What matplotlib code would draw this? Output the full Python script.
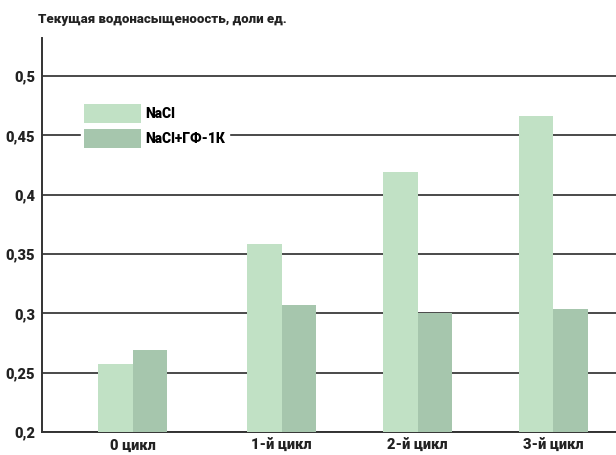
import numpy as np
import matplotlib
matplotlib.use("Agg")
import matplotlib.pyplot as plt
from matplotlib.ticker import FixedLocator, FuncFormatter

# water saturation by cycle for the two solutions
cycles = ["0 цикл", "1-й цикл", "2-й цикл", "3-й цикл"]
nacl = [0.257, 0.358, 0.419, 0.466]
nacl_gf = [0.269, 0.307, 0.300, 0.304]
series_names = ["NaCl", "NaCl+ГФ-1К"]
y_ticks = [0.2, 0.25, 0.3, 0.35, 0.4, 0.45, 0.5]

LIGHT = "#c1e1c5"
DARK = "#a6c6ad"
GRID = "#4a4a4a"
FAMILY = ["Roboto", "DejaVu Sans"]
WEIGHT = "black"

# group centres (slightly uneven spacing in the layout)
group_pos = np.array([0.0, 1.06, 2.03, 3.0])
bar_w = 0.246

fig = plt.figure(figsize=(6.16, 4.55), dpi=100)
ax = fig.add_axes([42 / 616, 23 / 455, 1 - 42 / 616, (432 - 38) / 455])

ax.bar(group_pos - bar_w / 2, nacl, bar_w, color=LIGHT, label=series_names[0],
       zorder=3)
ax.bar(group_pos + bar_w / 2, nacl_gf, bar_w, color=DARK, label=series_names[1],
       zorder=3)

ax.set_xlim(-0.649, 3.446)
ax.set_ylim(0.2, 0.532)

ax.yaxis.set_major_locator(FixedLocator(y_ticks))
ax.yaxis.set_major_formatter(
    FuncFormatter(lambda v, _: ("%g" % round(v, 2)).replace(".", ",")))
ax.set_xticks(group_pos)
ax.set_xticklabels(cycles)
ax.tick_params(axis="y", length=0, pad=5)
ax.tick_params(axis="x", length=0, pad=5)
for lbl in ax.get_yticklabels() + ax.get_xticklabels():
    lbl.set_fontsize(10.5)
    lbl.set_fontfamily(FAMILY)
    lbl.set_fontweight(WEIGHT)
    lbl.set_color("#222222")

ax.grid(axis="y", color=GRID, linewidth=1.4, zorder=1)
ax.set_axisbelow(True)
for side in ("top", "right"):
    ax.spines[side].set_visible(False)
for side in ("left", "bottom"):
    ax.spines[side].set_color("#333333")
    ax.spines[side].set_linewidth(1.4)

leg = ax.legend(loc="upper left", bbox_to_anchor=(39 / 574, (432 - 101) / 394),
                frameon=True, fancybox=False, framealpha=1, edgecolor="white",
                handlelength=4.1, handleheight=1.7, labelspacing=0.45,
                handletextpad=0.3, borderpad=0.25, borderaxespad=0,
                prop=dict(family=FAMILY, weight=WEIGHT, size=10))
leg.set_zorder(5)

fig.text(38 / 616, 1 - 19 / 455, "Текущая водонасыщеноость, доли ед.",
         fontsize=9.5, va="center", ha="left", color="#222222",
         family=FAMILY, weight=WEIGHT)

fig.savefig("out.png", dpi=100)
